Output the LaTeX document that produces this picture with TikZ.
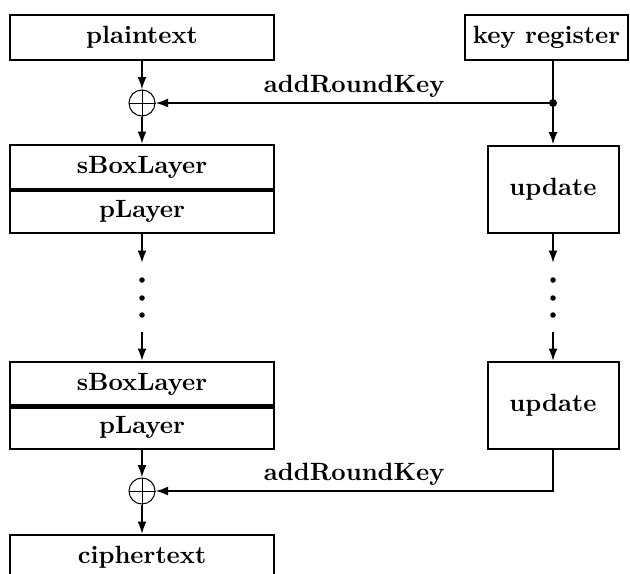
\documentclass[tikz,border=0pt]{standalone}
\usetikzlibrary{arrows.meta}
\begin{document}
\begin{tikzpicture}
[x=0.4pt,y=-0.4pt,thick,>={Latex[length=5pt,width=3.6pt]},
 every node/.style={font=\bfseries,inner sep=0pt},
 blk/.style={draw=black,minimum width=105.2pt,minimum height=18pt},
 half/.style={draw=black,minimum width=105.2pt,minimum height=17.6pt},
 upd/.style={draw=black,minimum width=52.4pt,minimum height=34.8pt},
 xor/.style={circle,draw=black,thin,minimum size=10.4pt}]
\useasboundingbox (0,0) rectangle (630,573);
\clip (0,0) rectangle (630,573);
% data path
\node[blk] (plain) at (142,37.5) {plaintext};
\node[xor] (x1) at (142,103) {};
\node[half] (sb1) at (142,167) {sBoxLayer};
\node[half] (pl1) at (142,211) {pLayer};
\node[half] (sb2) at (142,384) {sBoxLayer};
\node[half] (pl2) at (142,427) {pLayer};
\node[xor] (x2) at (142,491) {};
\node[blk] (cipher) at (142,557.5) {ciphertext};
% key schedule
\node[draw=black,minimum width=65.2pt,minimum height=18pt] (kreg) at (546.5,37.5) {key register};
\node[upd] (upd1) at (553,189) {update};
\node[upd] (upd2) at (553,405.5) {update};
\coordinate (kd) at (553,103);
\coordinate (la) at (142,263);
\coordinate (lb) at (142,332);
\coordinate (ra) at (553,263);
\coordinate (rb) at (553,332);
% thick line between the two layers
\draw[line width=1.4pt] (sb1.south west) -- (sb1.south east);
\draw[line width=1.4pt] (sb2.south west) -- (sb2.south east);
% plus signs
\draw[thin] (x1.north) -- (x1.south) (x1.west) -- (x1.east);
\draw[thin] (x2.north) -- (x2.south) (x2.west) -- (x2.east);
\draw[->] (plain) -- (x1);
\draw[->] (x1) -- (sb1);
\draw[->] (pl1) -- (la);
\draw[->] (lb) -- (sb2);
\draw[->] (pl2) -- (x2);
\draw[->] (x2) -- (cipher);
\draw (kreg.south -| kd) -- (kd);
\fill (kd) circle (1.6pt);
\draw[->] (kd) -- (upd1);
\draw[->] (kd) -- node[above=2pt]{addRoundKey} (x1);
\draw[->] (upd1) -- (ra);
\draw[->] (rb) -- (upd2);
\draw[->] (upd2.south) |- node[pos=0.75,above=2pt]{addRoundKey} (x2);
\foreach \y in {280,298,315} {
  \fill (142,\y) circle (1.1pt);
  \fill (553,\y) circle (1.1pt);
}
\end{tikzpicture}
\end{document}
